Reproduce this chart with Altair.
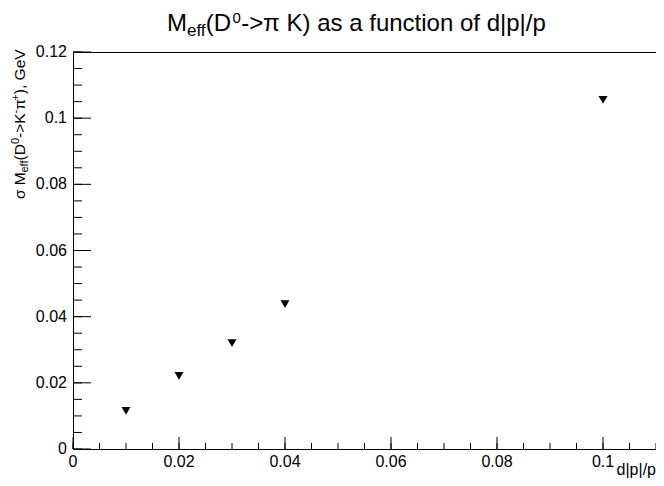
import altair as alt
import pandas as pd

# data
dp = [0.01, 0.02, 0.03, 0.04, 0.10]
sigma = [0.0115, 0.0221, 0.0320, 0.0438, 0.1055]

# axis ticks
x_major = [0, 0.02, 0.04, 0.06, 0.08, 0.1]
y_major = [0, 0.02, 0.04, 0.06, 0.08, 0.1, 0.12]
x_minor = [round(i * 0.005, 3) for i in range(23)]
y_minor = [round(i * 0.005, 3) for i in range(25)]
x_labels = ["0", "0.02", "0.04", "0.06", "0.08", "0.1"]
y_labels = ["0", "0.02", "0.04", "0.06", "0.08", "0.1", "0.12"]

# title pieces (text, font size, x, baseline y) relative to plot origin
title_text = ["M", "eff", "(D", "0", "->π K) as a function of d|p|/p"]
title_size = [24, 17, 24, 15, 24]
title_x = [94, 114, 132.7, 159.5, 168.3]
title_y = [-21, -16, -21, -29, -21]

# y-axis title pieces (rotated)
yt_text = ["σ M", "eff", "(D", "0", "->K", "-", "π", "+", "), GeV"]
yt_size = [15.5, 11, 15.5, 11, 15.5, 11, 15.5, 11, 15.5]
yt_y = [147, 120.5, 108.4, 92, 86, 61.4, 57.8, 48.5, 42.2]
yt_x = [-48, -45, -48, -54, -48, -54, -48, -54, -48]

W, H = 583, 397
FONT = "Liberation Sans"

xs = alt.Scale(domain=[0, 0.11], nice=False, zero=False)
ys = alt.Scale(domain=[0, 0.12], nice=False, zero=False)

pts = alt.Chart(pd.DataFrame({"dp": dp, "sigma": sigma})).mark_point(
    shape="triangle-down", filled=True, color="black", size=80, opacity=1
).encode(
    x=alt.X("dp:Q", scale=xs, axis=None),
    y=alt.Y("sigma:Q", scale=ys, axis=None),
)

xmaj = alt.Chart(pd.DataFrame({"v": x_major})).mark_rule(color="black", strokeWidth=1).encode(
    x=alt.X("v:Q", scale=xs, axis=None), y=alt.value(H), y2=alt.value(H - 12))
xmin = alt.Chart(pd.DataFrame({"v": x_minor})).mark_rule(color="black", strokeWidth=1).encode(
    x=alt.X("v:Q", scale=xs, axis=None), y=alt.value(H), y2=alt.value(H - 6))
ymaj = alt.Chart(pd.DataFrame({"v": y_major})).mark_rule(color="black", strokeWidth=1).encode(
    y=alt.Y("v:Q", scale=ys, axis=None), x=alt.value(0), x2=alt.value(18))
ymin = alt.Chart(pd.DataFrame({"v": y_minor})).mark_rule(color="black", strokeWidth=1).encode(
    y=alt.Y("v:Q", scale=ys, axis=None), x=alt.value(0), x2=alt.value(9))

xlab = alt.Chart(pd.DataFrame({"v": x_major, "t": x_labels})).mark_text(
    align="center", baseline="top", font=FONT, fontSize=16, color="black"
).encode(x=alt.X("v:Q", scale=xs, axis=None), y=alt.value(H + 5), text="t:N")
ylab = alt.Chart(pd.DataFrame({"v": y_major, "t": y_labels})).mark_text(
    align="right", baseline="middle", font=FONT, fontSize=16, color="black"
).encode(y=alt.Y("v:Q", scale=ys, axis=None), x=alt.value(-6), text="t:N")

title = alt.Chart(pd.DataFrame({"t": title_text, "s": title_size, "px": title_x, "py": title_y})).mark_text(
    align="left", baseline="alphabetic", font=FONT, color="black"
).encode(
    x=alt.X("px:Q", scale=None, axis=None), y=alt.Y("py:Q", scale=None, axis=None),
    size=alt.Size("s:Q", scale=None, legend=None), text="t:N")

ytitle = alt.Chart(pd.DataFrame({"t": yt_text, "s": yt_size, "px": yt_x, "py": yt_y})).mark_text(
    align="left", baseline="alphabetic", font=FONT, color="black", angle=270
).encode(
    x=alt.X("px:Q", scale=None, axis=None), y=alt.Y("py:Q", scale=None, axis=None),
    size=alt.Size("s:Q", scale=None, legend=None), text="t:N")

xtitle = alt.Chart(pd.DataFrame({"t": ["d|p|/p"]})).mark_text(
    align="right", baseline="alphabetic", font=FONT, fontSize=16, color="black"
).encode(x=alt.value(W), y=alt.value(H + 26), text="t:N")

chart = alt.layer(pts, xmaj, xmin, ymaj, ymin, xlab, ylab, title, ytitle, xtitle).properties(
    width=W, height=H,
    autosize=alt.AutoSizeParams(type="none"),
    padding={"left": 65, "top": 44, "right": 0, "bottom": 29},
    background="white",
).configure_view(stroke="black", strokeWidth=1)

chart.save("out.html", embed_options={"renderer": "svg", "actions": False})
